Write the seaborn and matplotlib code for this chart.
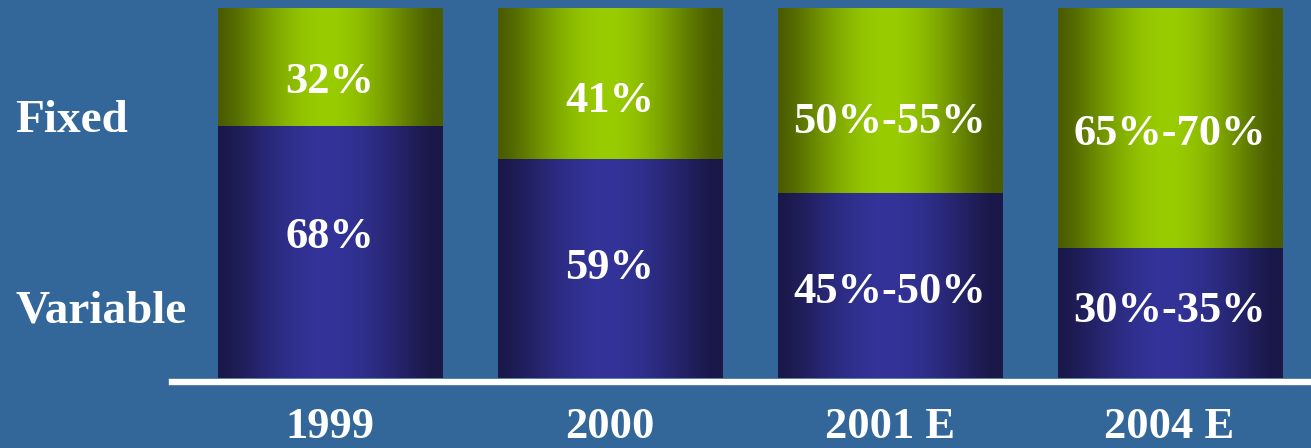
import numpy as np
import pandas as pd
import matplotlib
matplotlib.use("Agg")
import matplotlib.pyplot as plt
import seaborn as sns
from matplotlib.colors import to_rgb

# Cost structure: share of variable vs. fixed cost per year
years = ["1999", "2000", "2001 E", "2004 E"]
variable_share = [68, 59, 50, 35]
fixed_share = [32, 41, 50, 65]
variable_labels = ["68%", "59%", "45%-50%", "30%-35%"]
fixed_labels = ["32%", "41%", "50%-55%", "65%-70%"]
row_labels = ["Fixed", "Variable"]

# text baselines inside the segments (axis units)
fixed_text_base = [77.0, 71.9, 66.2, 63.0]
variable_text_base = [35.1, 26.8, 20.3, 15.1]

BG = "#336699"
GREEN_EDGE, GREEN_MID = "#4a5b00", "#99cc00"
NAVY_EDGE, NAVY_MID = "#1a1848", "#333399"

df = pd.DataFrame({
    "year": years,
    "variable": variable_share,
    "total": [v + f for v, f in zip(variable_share, fixed_share)],
})

sns.set_theme(style="white")
plt.rcParams["font.family"] = ["Liberation Serif", "DejaVu Serif"]
plt.rcParams["font.weight"] = "bold"

W, H = 1311, 448
fig = plt.figure(figsize=(W / 100, H / 100), dpi=100, facecolor=BG)
ax = fig.add_axes([172 / W, (H - 381.5) / H, 1 - 172 / W, 381.5 / H])
ax.set_facecolor(BG)

sns.barplot(data=df, x="year", y="total", color=GREEN_MID, saturation=1,
            width=0.8, ax=ax)
sns.barplot(data=df, x="year", y="variable", color=NAVY_MID, saturation=1,
            width=0.8, ax=ax)


def shade(edge, mid, n=256):
    # horizontal cylinder-like shading: dark at the sides, bright in the middle
    u = np.linspace(0, 1, n)
    t = np.sin(np.pi * np.clip(u / 0.97, 0, 1)) ** 1.3
    e, m = np.array(to_rgb(edge)), np.array(to_rgb(mid))
    cols = e[None, :] + (m - e)[None, :] * t[:, None]
    return cols[None, :, :]


patches = list(ax.patches)
n = len(years)
green_img = shade(GREEN_EDGE, GREEN_MID)
navy_img = shade(NAVY_EDGE, NAVY_MID)
for i, p in enumerate(patches):
    x0, w = p.get_x(), p.get_width()
    y0, h = p.get_y(), p.get_height()
    img = green_img if i < n else navy_img
    ax.imshow(img, extent=[x0, x0 + w, y0, y0 + h], aspect="auto",
              interpolation="bilinear", zorder=2 + (i >= n))
    p.set_visible(False)

# value labels inside each segment
for i in range(n):
    ax.text(i, fixed_text_base[i], fixed_labels[i], ha="center",
            va="baseline", color="white", fontsize=32, fontweight="bold",
            zorder=5)
    ax.text(i, variable_text_base[i], variable_labels[i], ha="center",
            va="baseline", color="white", fontsize=32, fontweight="bold",
            zorder=5)

ax.set_xlim(-0.5625, 3.505)
ax.set_ylim(-0.95, 102.16)
ax.set_xlabel("")
ax.set_ylabel("")
ax.set_yticks([])
ax.tick_params(axis="x", length=0, pad=41, labelsize=32, labelcolor="white")
for lab in ax.get_xticklabels():
    lab.set_fontweight("bold")
    lab.set_verticalalignment("baseline")
for side in ("left", "top", "right"):
    ax.spines[side].set_visible(False)
ax.spines["bottom"].set_color("white")
ax.spines["bottom"].set_linewidth(4.6)
ax.spines["bottom"].set_zorder(6)

fig.text(15 / W, (H - 132) / H, row_labels[0], color="white", fontsize=34,
         fontweight="bold", ha="left", va="baseline")
fig.text(15 / W, (H - 322) / H, row_labels[1], color="white", fontsize=34,
         fontweight="bold", ha="left", va="baseline")

fig.savefig("out.png", dpi=100, facecolor=BG)
